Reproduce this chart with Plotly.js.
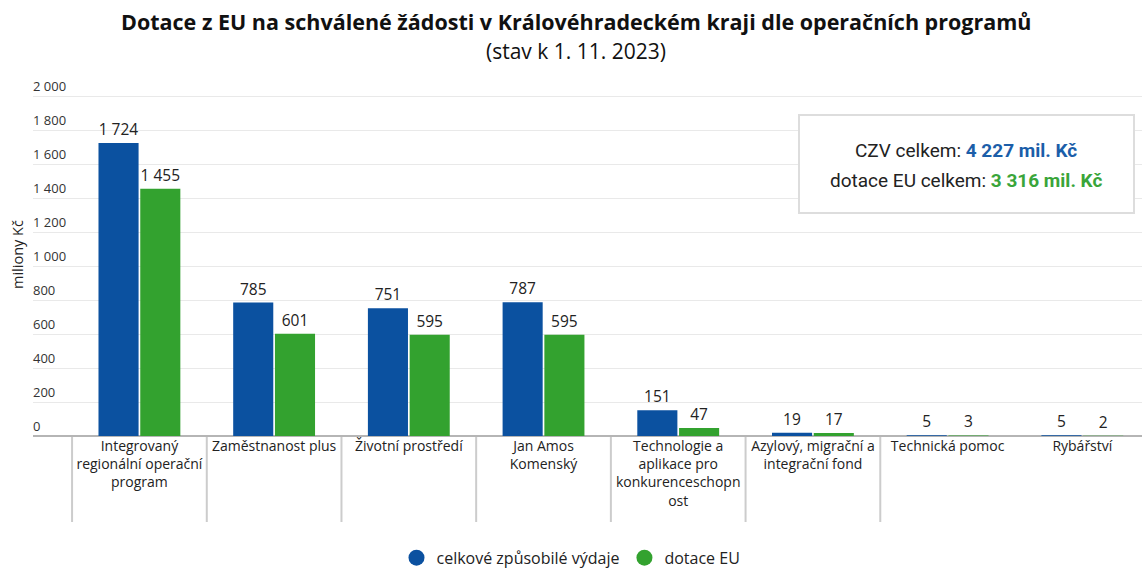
<!DOCTYPE html>
<html>
<head>
<meta charset="utf-8">
<script src="https://cdn.plot.ly/plotly-3.0.1.min.js"></script>
<style>html,body{margin:0;padding:0;background:#fff;}#chart{width:1142px;height:568px;}</style>
</head>
<body>
<div id="chart"></div>
<script>
const categories = ["Integrovaný regionální operační program","Zaměstnanost plus","Životní prostředí","Jan Amos Komenský","Technologie a aplikace pro konkurenceschopnost","Azylový, migrační a integrační fond","Technická pomoc","Rybářství"];
const tickLabels = ["Integrovaný<br>regionální operační<br>program","Zaměstnanost plus","Životní prostředí","Jan Amos<br>Komenský","Technologie a<br>aplikace pro<br>konkurenceschopn<br>ost","Azylový, migrační a<br>integrační fond","Technická pomoc","Rybářství"];
const czv = [1724, 785, 751, 787, 151, 19, 5, 5];
const dotace = [1455, 601, 595, 595, 47, 17, 3, 2];
const seriesNames = ["celkové způsobilé výdaje", "dotace EU"];
const totals = {czv: "4 227 mil. Kč", dotace: "3 316 mil. Kč"};
const titleLines = ["Dotace z EU na schválené žádosti v Královéhradeckém kraji dle operačních programů", "(stav k 1. 11. 2023)"];

const BLUE = "#0b51a0", GREEN = "#33a22f";
const FONT = "Open Sans, Lato, sans-serif";

// plot area: bottom at 436px, 34px per 200
const PLOT_BOTTOM = 436, PLOT_TOP = 76, PLOT_H = PLOT_BOTTOM - PLOT_TOP;
const yMax = 200 * PLOT_H / 34;
const py = (pix) => (PLOT_BOTTOM - pix) / PLOT_H;
const PLOT_L = 33, PLOT_W = 1142 - 33;
const px = (pix) => (pix - PLOT_L) / PLOT_W;

const traces = [
  {type:"bar", x:categories, y:czv, name:seriesNames[0], marker:{color:BLUE}, showlegend:false,
   texttemplate:"%{y:,}", textposition:"outside", textfont:{size:15.5, color:"#222", family:FONT}, cliponaxis:false, hoverinfo:"x+y"},
  {type:"bar", x:categories, y:dotace, name:seriesNames[1], marker:{color:GREEN}, showlegend:false,
   texttemplate:"%{y:,}", textposition:"outside", textfont:{size:15.5, color:"#222", family:FONT}, cliponaxis:false, hoverinfo:"x+y"},
  {type:"scatter", mode:"markers", x:[categories[0]], y:[null], name:seriesNames[0], marker:{color:BLUE, size:16, symbol:"circle"}},
  {type:"scatter", mode:"markers", x:[categories[0]], y:[null], name:seriesNames[1], marker:{color:GREEN, size:16, symbol:"circle"}}
];

const boundaries = [];
for (let i = 0; i < categories.length - 1; i++) {
  boundaries.push({type:"line", xref:"x", yref:"paper", x0:i-0.5, x1:i-0.5, y0:0, y1:py(522), line:{color:"#cccccc", width:2}, layer:"below"});
}

const layout = {
  width:1142, height:568,
  margin:{l:PLOT_L, r:0, t:PLOT_TOP, b:568-PLOT_BOTTOM},
  paper_bgcolor:"#fff", plot_bgcolor:"#fff",
  separators:", ",
  font:{family:FONT, color:"#222"},
  barmode:"group", bargap:0.38, bargroupgap:0.04,
  xaxis:{type:"category", range:[-0.79, 7.443], tickvals:categories, ticktext:tickLabels, ticks:"", showgrid:false,
         showline:false, zeroline:false, tickfont:{size:14, color:"#222", family:FONT}, automargin:false},
  yaxis:{range:[0,yMax], dtick:200, tickformat:",", ticklabelposition:"inside top", ticklabelstandoff:-3, showgrid:true, gridcolor:"#e9e9e9", gridwidth:1,
         zeroline:true, zerolinecolor:"#b5b5b5", zerolinewidth:2, showline:false, tickfont:{size:13, color:"#333", family:FONT}, automargin:false},
  showlegend:true,
  legend:{orientation:"h", xref:"container", yref:"container", x:0.5, xanchor:"center", y:0.018, yanchor:"middle",
          font:{size:16, color:"#222", family:FONT}},
  shapes: boundaries.concat([
    {type:"rect", xref:"paper", yref:"paper", x0:px(799), x1:px(1134), y0:py(213), y1:py(115), line:{color:"#dddddd", width:2}, fillcolor:"#fff", layer:"above"}
  ]),
  annotations:[
    {xref:"paper", yref:"paper", x:px(576), y:py(21), xanchor:"center", yanchor:"middle", text:"<b>" + titleLines[0] + "</b>", showarrow:false, font:{size:21.5, color:"#111", family:FONT}},
    {xref:"paper", yref:"paper", x:px(576), y:py(51), xanchor:"center", yanchor:"middle", text:titleLines[1], showarrow:false, font:{size:21, color:"#111", family:FONT}},
    {xref:"paper", yref:"paper", x:px(17), y:py(255), xanchor:"center", yanchor:"middle", text:"miliony Kč", textangle:-90, showarrow:false, font:{size:14.5, color:"#222", family:FONT}},
    {xref:"paper", yref:"paper", x:px(966), y:py(150), xanchor:"center", yanchor:"middle", text:"CZV celkem: <b><span style='color:#1b5ea9'>" + totals.czv + "</span></b>", showarrow:false, font:{size:19, color:"#222", family:"Roboto, sans-serif"}},
    {xref:"paper", yref:"paper", x:px(966), y:py(180), xanchor:"center", yanchor:"middle", text:"dotace EU celkem: <b><span style='color:#3aa53a'>" + totals.dotace + "</span></b>", showarrow:false, font:{size:19, color:"#222", family:"Roboto, sans-serif"}}
  ]
};

Plotly.newPlot("chart", traces, layout, {displayModeBar:false, staticPlot:true});
</script>
</body>
</html>
